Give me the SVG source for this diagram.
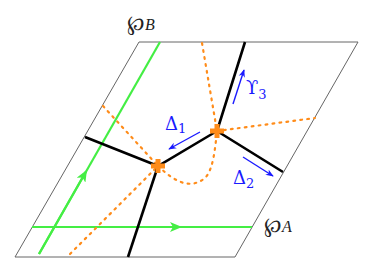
<svg xmlns="http://www.w3.org/2000/svg" width="374" height="273" viewBox="0 0 374 273">
<defs>
<style>
.frame{fill:none;stroke:#666;stroke-width:1}
.green{fill:none;stroke:#44ee44;stroke-width:2.2}
.black{fill:none;stroke:#000;stroke-width:2.6}
.dot{fill:none;stroke:#ff8c1a;stroke-width:2.2;stroke-dasharray:1.8 5.2;stroke-linecap:round}
.blue{fill:none;stroke:#1a1aff;stroke-width:1.4}
.cross{stroke:#ff8c1a;stroke-width:5}
.wp{font-family:"DejaVu Serif","Liberation Serif",serif;font-size:21px;fill:#222}
.wsub{font-family:"Liberation Serif",serif;font-style:italic;font-size:16px}
.blab{font-family:"DejaVu Serif","Liberation Serif",serif;font-size:18px;fill:#1a1aff}
.sub{font-size:13px}
</style>
<marker id="ga" viewBox="0 0 12 10" refX="10" refY="5" markerWidth="12" markerHeight="10" orient="auto" markerUnits="userSpaceOnUse">
<path d="M0,0 L12,5 L0,10 L3,5 Z" fill="#44ee44"/>
</marker>
<marker id="ba" viewBox="0 0 10 10" refX="9" refY="5" markerWidth="8" markerHeight="8" orient="auto" markerUnits="userSpaceOnUse">
<path d="M0,1 L10,5 L0,9 L3,5 Z" fill="#1a1aff"/>
</marker>
</defs>
<g id="frame">
<path class="frame" d="M139,42 L358,42 L235,257 L15,257 Z"/>
</g>
<g id="connectors">
<path class="green" d="M39,254 L160,42"/>
<path class="green" d="M39,254 L86,171.5" marker-end="url(#ga)"/>
<path class="green" d="M32,227 L252,227"/>
<path class="green" d="M32,227 L180,227" marker-end="url(#ga)"/>
<path class="dot" d="M202,43 Q210,90 217,131"/>
<path class="dot" d="M217,131 L315,118"/>
<path class="dot" d="M103,106 L158,166"/>
<path class="dot" d="M70,254 L158,166"/>
<path class="dot" d="M158,166 C175,182 190,190 205,178 C213,170 215,150 217,131"/>
<path class="black" d="M245,42 L217,131 L283,172"/>
<path class="black" d="M217,131 L158,166 L85,137"/>
<path class="black" d="M158,166 L128,257"/>
<path class="blue" d="M233,104 L244,70" marker-end="url(#ba)"/>
<path class="blue" d="M200,132 L169,149" marker-end="url(#ba)"/>
<path class="blue" d="M243,157 L273,176" marker-end="url(#ba)"/>
</g>
<g id="vertex1">
<path class="cross" d="M151,166 L165,166 M158,159 L158,173"/>
</g>
<g id="vertex2">
<path class="cross" d="M210,131 L224,131 M217,124 L217,138"/>
</g>
<g id="labelB">
<text class="wp" x="127" y="30">℘<tspan class="wsub">B</tspan></text>
</g>
<g id="labelA">
<text class="wp" x="264" y="232">℘<tspan class="wsub" font-size="15">A</tspan></text>
</g>
<g id="labelU3">
<text class="blab" x="246" y="94">ϒ<tspan class="sub" dy="5">3</tspan></text>
</g>
<g id="labelD1">
<text class="blab" x="165" y="130">Δ<tspan class="sub" dy="3">1</tspan></text>
</g>
<g id="labelD2">
<text class="blab" x="233" y="184">Δ<tspan class="sub" dy="4">2</tspan></text>
</g>
</svg>
